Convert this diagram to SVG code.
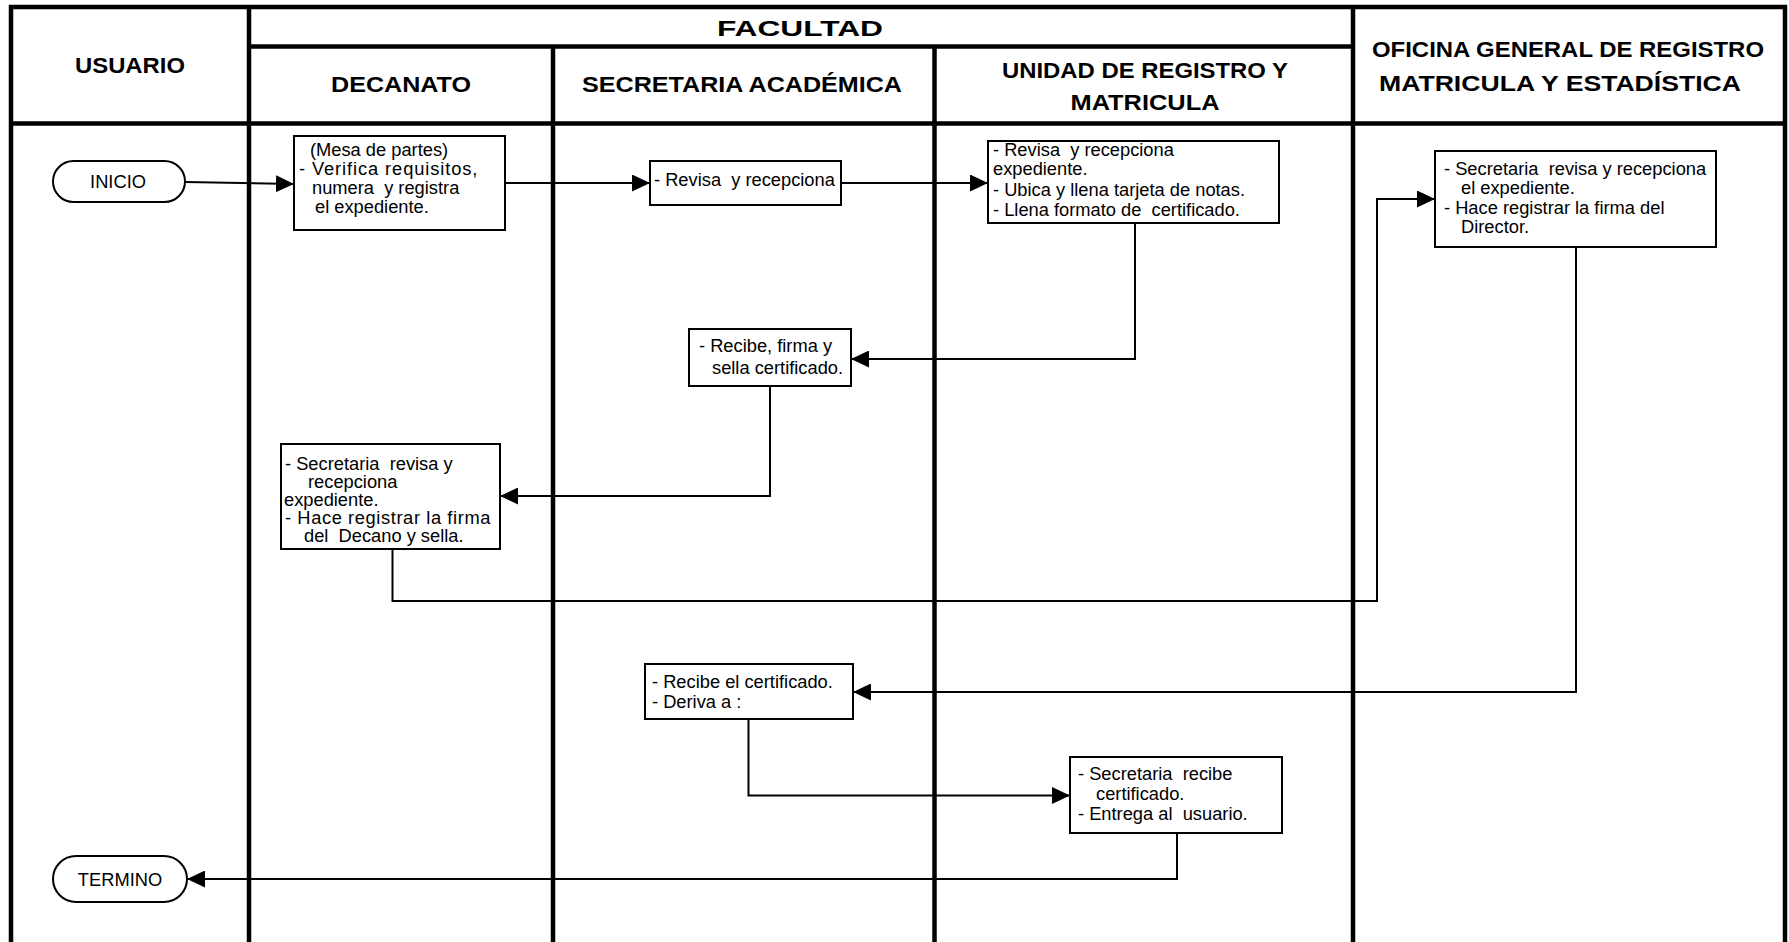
<svg xmlns="http://www.w3.org/2000/svg" width="1789" height="942" viewBox="0 0 1789 942">
  <style>
    .lane { stroke: #000; stroke-width: 4.5; fill: none; }
    .hd { font-family: "Liberation Sans", Arial, sans-serif; font-weight: bold; font-size: 22px; fill: #000; text-anchor: middle; }
    .box { fill: #fff; stroke: #000; stroke-width: 2; }
    .term { fill: #fff; stroke: #000; stroke-width: 2; }
    .tx { font-family: "Liberation Sans", Arial, sans-serif; font-size: 18.3px; fill: #000; white-space: pre; }
    .tc { text-anchor: middle; }
    .flow { fill: none; stroke: #000; stroke-width: 2; marker-end: url(#arrow); }
  </style>
  <defs>
    <marker id="arrow" markerUnits="userSpaceOnUse" markerWidth="18" markerHeight="17" refX="18" refY="8.5" orient="auto">
      <path d="M0,0 L18,8.5 L0,17 Z" fill="#000"/>
    </marker>
  </defs>

  <rect width="1789" height="942" fill="#fff"/>

  <!-- swimlane grid -->
  <g id="lanes">
    <line class="lane" x1="9" y1="7" x2="1787" y2="7"/>
    <line class="lane" x1="11" y1="5" x2="11" y2="942"/>
    <line class="lane" x1="1785" y1="5" x2="1785" y2="942"/>
    <line class="lane" x1="249" y1="7" x2="249" y2="942"/>
    <line class="lane" x1="249" y1="46.5" x2="1353" y2="46.5"/>
    <line class="lane" x1="553" y1="46.5" x2="553" y2="942"/>
    <line class="lane" x1="934.5" y1="46.5" x2="934.5" y2="942"/>
    <line class="lane" x1="1353" y1="7" x2="1353" y2="942"/>
    <line class="lane" x1="11" y1="123.5" x2="1785" y2="123.5"/>
  </g>

  <!-- lane headers -->
  <g id="headers">
    <text class="hd" x="130" y="73" textLength="110" lengthAdjust="spacingAndGlyphs">USUARIO</text>
    <text class="hd" x="800" y="36" font-size="24" textLength="166" lengthAdjust="spacingAndGlyphs">FACULTAD</text>
    <text class="hd" x="401" y="92" textLength="140" lengthAdjust="spacingAndGlyphs">DECANATO</text>
    <text class="hd" x="742" y="92" textLength="320" lengthAdjust="spacingAndGlyphs">SECRETARIA ACADÉMICA</text>
    <text class="hd" x="1145" y="78" textLength="286" lengthAdjust="spacingAndGlyphs">UNIDAD DE REGISTRO Y</text>
    <text class="hd" x="1145" y="110" textLength="149" lengthAdjust="spacingAndGlyphs">MATRICULA</text>
    <text class="hd" x="1568" y="57" textLength="392" lengthAdjust="spacingAndGlyphs">OFICINA GENERAL DE REGISTRO</text>
    <text class="hd" x="1560" y="91" textLength="362" lengthAdjust="spacingAndGlyphs">MATRICULA Y ESTADÍSTICA</text>
  </g>

  <!-- connectors -->
  <g id="connectors">
    <path class="flow" d="M185,182 L294,184"/>
    <path class="flow" d="M505,183 H650"/>
    <path class="flow" d="M841,183 H988"/>
    <path class="flow" d="M1135,223 V359 H851"/>
    <path class="flow" d="M770,386 V496 H500"/>
    <path class="flow" d="M392.5,549 V601 H1377 V199 H1435"/>
    <path class="flow" d="M1576,247 V692 H853"/>
    <path class="flow" d="M748.5,719 V795.5 H1070"/>
    <path class="flow" d="M1177,833 V879 H187"/>
  </g>

  <!-- start / end -->
  <g id="inicio">
    <rect class="term" x="53" y="161" width="132" height="41" rx="20.5"/>
    <text class="tx tc" x="118" y="188" font-size="17.5">INICIO</text>
  </g>
  <g id="termino">
    <rect class="term" x="53" y="856" width="134" height="46" rx="23"/>
    <text class="tx tc" x="120" y="886" font-size="18">TERMINO</text>
  </g>

  <!-- process steps -->
  <g id="mesa-partes">
    <rect class="box" x="294" y="136" width="211" height="94"/>
    <text class="tx" font-size="20" x="310" y="156">(Mesa de partes)</text>
    <text class="tx" font-size="20" x="299" y="175" letter-spacing="0.9">- Verifica requisitos,</text>
    <text class="tx" font-size="20"><tspan x="312" y="194">numera  y registra</tspan><tspan x="315" y="213">el expediente.</tspan></text>
  </g>

  <g id="sa-revisa">
    <rect class="box" x="650" y="161" width="191" height="44"/>
    <text class="tx" x="654" y="186">- Revisa  y recepciona</text>
  </g>

  <g id="ur-revisa">
    <rect class="box" x="988" y="141" width="291" height="82"/>
    <text class="tx" x="993" y="156">- Revisa  y recepciona</text>
    <text class="tx" x="993" y="175">expediente.</text>
    <text class="tx"><tspan x="993" y="196">- Ubica y llena tarjeta de notas.</tspan><tspan x="993" y="216">- Llena formato de  certificado.</tspan></text>
  </g>

  <g id="sa-firma">
    <rect class="box" x="689" y="329" width="162" height="57"/>
    <text class="tx" font-size="19"><tspan x="699" y="352">- Recibe, firma y</tspan><tspan x="712" y="374">sella certificado.</tspan></text>
  </g>

  <g id="dec-firma">
    <rect class="box" x="281" y="444" width="219" height="105"/>
    <text class="tx" font-size="19.5"><tspan x="285" y="470">- Secretaria  revisa y</tspan><tspan x="308" y="488">recepciona</tspan><tspan x="284" y="506">expediente.</tspan></text>
    <text class="tx" font-size="19.5" x="285" y="524" letter-spacing="0.6">- Hace registrar la firma</text>
    <text class="tx" font-size="19.5" x="304" y="542">del  Decano y sella.</text>
  </g>

  <g id="og-firma">
    <rect class="box" x="1435" y="151" width="281" height="96"/>
    <text class="tx"><tspan x="1444" y="175">- Secretaria  revisa y recepciona</tspan><tspan x="1461" y="194">el expediente.</tspan><tspan x="1444" y="214">- Hace registrar la firma del</tspan><tspan x="1461" y="233">Director.</tspan></text>
  </g>

  <g id="sa-recibe">
    <rect class="box" x="645" y="664" width="208" height="55"/>
    <text class="tx"><tspan x="652" y="688">- Recibe el certificado.</tspan><tspan x="652" y="708">- Deriva a :</tspan></text>
  </g>

  <g id="ur-entrega">
    <rect class="box" x="1070" y="757" width="212" height="76"/>
    <text class="tx"><tspan x="1078" y="780">- Secretaria  recibe</tspan><tspan x="1096" y="800">certificado.</tspan><tspan x="1078" y="820">- Entrega al  usuario.</tspan></text>
  </g>
</svg>
